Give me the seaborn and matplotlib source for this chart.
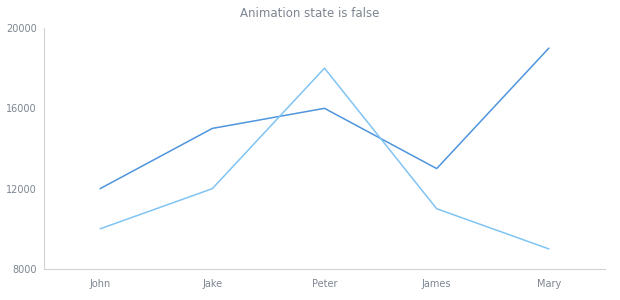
import matplotlib
matplotlib.use("Agg")
import matplotlib.pyplot as plt
import seaborn as sns
import pandas as pd
import numpy as np

names = ["John", "Jake", "Peter", "James", "Mary"]
series1 = [12000, 15000, 16000, 13000, 19000]
series2 = [10000, 12000, 18000, 11000, 9000]
y_ticks = [8000, 12000, 16000, 20000]

sns.set_style("white")
plt.rcParams['font.family'] = ['DejaVu Sans']

df = pd.DataFrame({
    "name": names * 2,
    "value": series1 + series2,
    "series": ["Series 1"] * len(names) + ["Series 2"] * len(names),
})

fig = plt.figure(figsize=(6.2, 3.0), dpi=100)
ax = fig.add_axes([44/620, 31/300, 561/620, 241/300])
sns.lineplot(data=df, x="name", y="value", hue="series", sort=False,
             palette=["#4f95dd", "#80c4f4"], linewidth=1.1, ax=ax, legend=False)

ax.set_xlim(-0.5, len(names) - 0.5)
ax.set_ylim(y_ticks[0], y_ticks[-1])
ax.set_yticks(y_ticks)
ax.set_yticklabels([str(v) for v in y_ticks])
ax.set_xticks(np.arange(-0.5, len(names)), minor=False)
ax.set_xticklabels([""] * (len(names) + 1))
ax.set_xticks(np.arange(len(names)), minor=True)
ax.set_xticklabels(names, minor=True)
ax.tick_params(axis="x", which="major", length=4, color="#cfd3d7", width=0.8)
ax.tick_params(axis="x", which="minor", length=0, pad=7, labelsize=7, labelcolor="#7c8590")
ax.tick_params(axis="y", length=3, color="#cfd3d7", width=0.8, labelsize=7, labelcolor="#7c8590", pad=2)
ax.set_xlabel("")
ax.set_ylabel("")
for s in ["top", "right"]:
    ax.spines[s].set_visible(False)
for s in ["left", "bottom"]:
    ax.spines[s].set_color("#cfd3d7")
    ax.spines[s].set_linewidth(0.8)
fig.text(0.5, 0.955, "Animation state is false", ha="center", va="center",
         fontsize=8.5, color="#7c8590")
fig.savefig("out.png", dpi=100)
